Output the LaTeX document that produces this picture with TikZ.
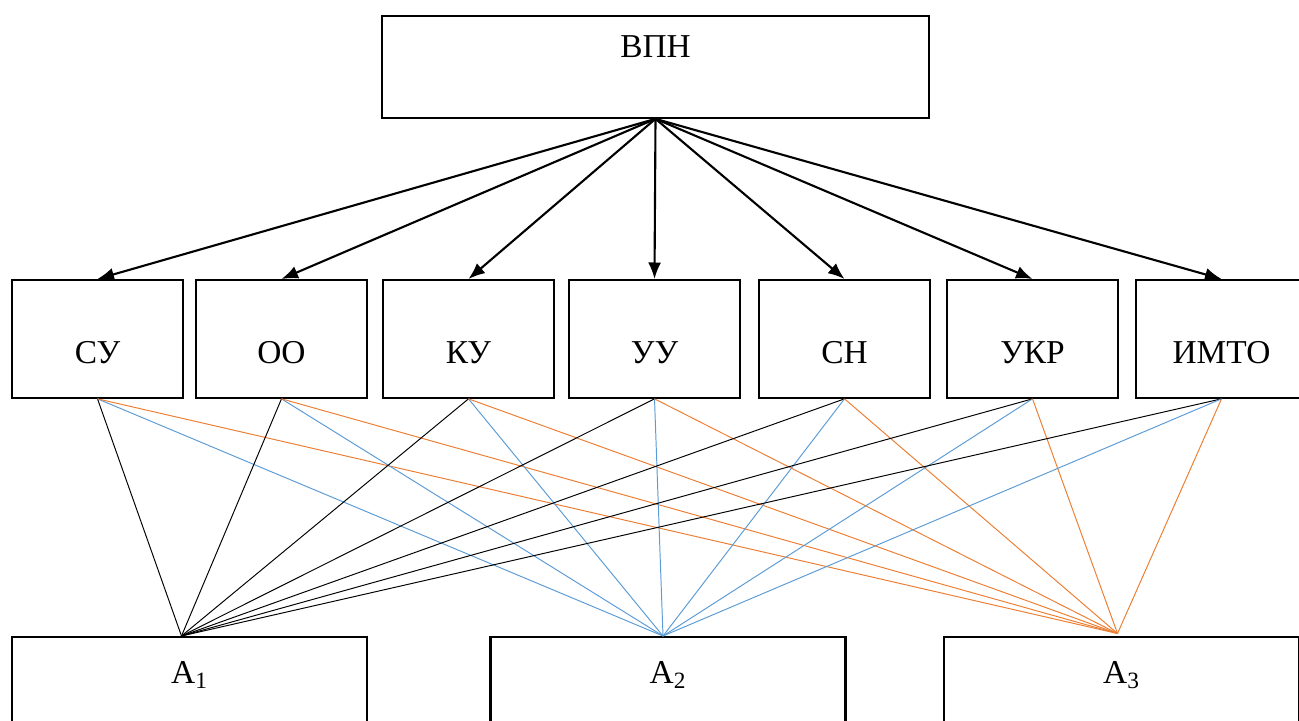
\documentclass[tikz,border=0pt]{standalone}
\usepackage{fontspec}
\setmainfont{Liberation Serif}
\usetikzlibrary{arrows.meta}
\definecolor{linkblue}{RGB}{91,155,213}
\definecolor{linkorange}{RGB}{237,125,49}

\begin{document}
\begin{tikzpicture}[
    box/.style={draw, line width=1.3pt, inner xsep=0pt, inner ysep=0pt, anchor=north,
        font=\fontsize{19}{22}\selectfont},
    arr/.style={-{Latex[length=3.3mm,width=2.6mm]}, line width=1.2pt},
    link/.style={line width=0.55pt}
]
    \clip (0,0) rectangle (25.98,14.4);

    % Draw top box
    \node[box, minimum width=10.94cm, text height=23.8pt, text depth=34pt] (vpn) at (13.11,14.1) {ВПН};

    % Draw middle row and arrows
    \foreach \x/\n/\t in {1.95/su/СУ, 5.63/oo/ОО, 9.37/ku/КУ, 13.09/uu/УУ, 16.89/sn/СН, 20.65/ukr/УКР, 24.43/imto/ИМТО}
    {
        \node[box, minimum width=3.42cm, text height=47.6pt, text depth=19.3pt] (\n) at (\x,8.82) {\t};
        \draw[arr] (vpn.south) -- (\n.north);
    }

    % Draw bottom row
    \foreach \x/\n/\i in {3.79/aone/1, 13.36/atwo/2, 22.43/athree/3}
        \node[box, minimum width=7.1cm, text height=26.6pt, text depth=30pt] (\n) at (\x,1.68) {A\textsubscript{\i}};

    % Meeting points on the bottom row
    \coordinate (pone) at ([xshift=-0.16cm]aone.north);
    \coordinate (ptwo) at ([xshift=-0.1cm]atwo.north);
    \coordinate (pthree) at ([xshift=-0.08cm,yshift=0.05cm]athree.north);

    % Links to the bottom row
    \foreach \n in {su,oo,ku,uu,sn,ukr,imto}
    {
        \draw[link, black] (\n.south) -- (pone);
        \draw[link, linkblue] (\n.south) -- (ptwo);
        \draw[link, linkorange] (\n.south) -- (pthree);
    }
\end{tikzpicture}
\end{document}
